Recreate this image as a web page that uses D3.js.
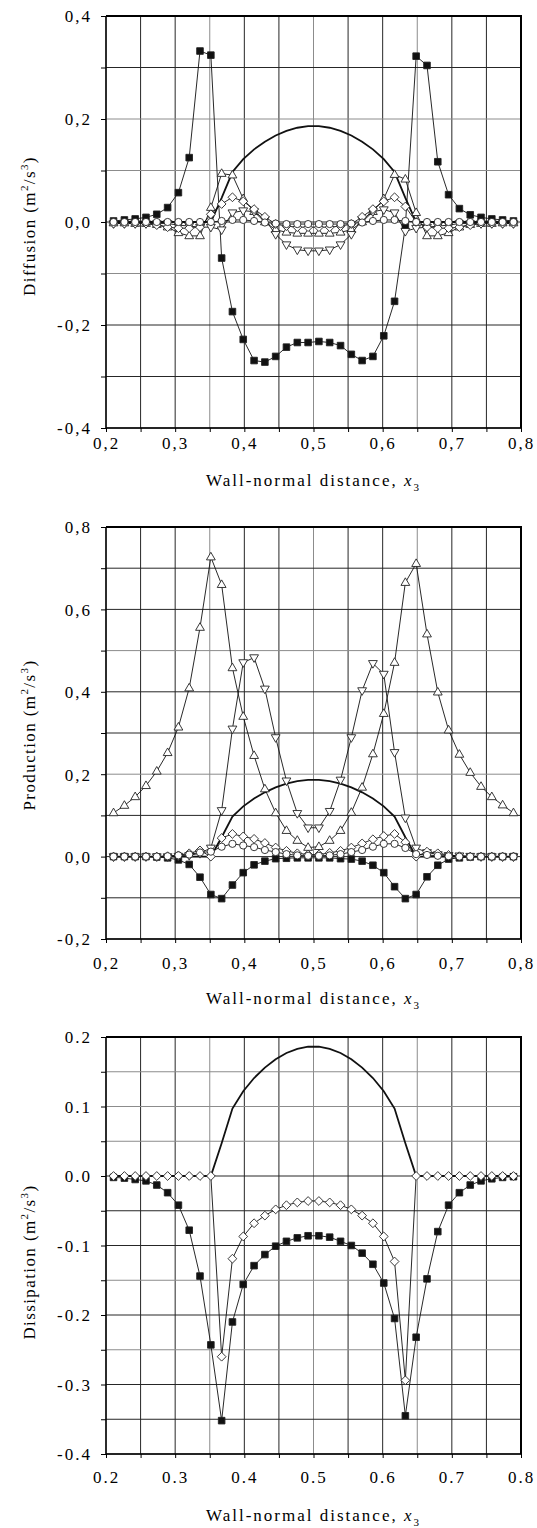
<!DOCTYPE html>
<html>
<head>
<meta charset="utf-8">
<script src="https://cdn.jsdelivr.net/npm/d3@7.9.0/dist/d3.min.js"></script>
<style>
  body { margin: 0; background: #fff; }
  svg { display: block; font-family: "Liberation Serif", "Times New Roman", serif; }
</style>
</head>
<body>
<svg id="chart" width="537" height="1528"></svg>
<script>
// wall-normal positions of the sample points
const xPos = [0.2109, 0.2266, 0.2422, 0.2578, 0.2734, 0.2891, 0.3047, 0.3203, 0.3359, 0.3516,
  0.3672, 0.3828, 0.3984, 0.4141, 0.4297, 0.4453, 0.4609, 0.4766, 0.4922, 0.5078,
  0.5234, 0.5391, 0.5547, 0.5703, 0.5859, 0.6016, 0.6172, 0.6328, 0.6484, 0.6641,
  0.6797, 0.6953, 0.7109, 0.7266, 0.7422, 0.7578, 0.7734, 0.7891];
const xTicks = [0.2, 0.3, 0.4, 0.5, 0.6, 0.7, 0.8];
const xGrid = [0.2, 0.25, 0.3, 0.35, 0.4, 0.45, 0.5, 0.55, 0.6, 0.65, 0.7, 0.75, 0.8];

// reference profile (solid line), same in all panels
const profile = [0, 0, 0, 0, 0, 0, 0, 0, 0, 0,
  0.047, 0.097, 0.122, 0.141, 0.156, 0.168, 0.177, 0.183, 0.186, 0.186,
  0.183, 0.177, 0.168, 0.156, 0.141, 0.122, 0.097, 0.047, 0, 0,
  0, 0, 0, 0, 0, 0, 0, 0];

// Diffusion
const diffSquare = [0.002, 0.004, 0.006, 0.009, 0.015, 0.028, 0.057, 0.125, 0.332, 0.324,
  -0.070, -0.174, -0.228, -0.269, -0.272, -0.261, -0.243, -0.234, -0.234, -0.232,
  -0.234, -0.240, -0.257, -0.269, -0.261, -0.221, -0.154, -0.008, 0.322, 0.304,
  0.117, 0.053, 0.026, 0.014, 0.009, 0.006, 0.004, 0.002];
const diffUp = [-0.002, -0.002, -0.003, -0.003, -0.005, -0.010, -0.021, -0.027, -0.027, 0.028,
  0.094, 0.091, 0.045, 0.020, 0.000, -0.015, -0.020, -0.022, -0.022, -0.022,
  -0.022, -0.020, -0.015, 0.000, 0.020, 0.045, 0.092, 0.083, 0.018, -0.027,
  -0.027, -0.021, -0.010, -0.005, -0.003, -0.003, -0.002, -0.002];
const diffDown = [-0.003, -0.003, -0.003, -0.003, -0.003, -0.003, -0.006, -0.008, -0.010, -0.010,
  -0.015, 0.018, 0.022, 0.020, 0.005, -0.024, -0.044, -0.054, -0.056, -0.056,
  -0.054, -0.044, -0.024, 0.005, 0.020, 0.024, 0.018, -0.018, -0.012, -0.010,
  -0.008, -0.006, -0.003, -0.003, -0.003, -0.003, -0.003, -0.003];
const diffDiamond = [-0.003, -0.003, -0.003, -0.003, -0.006, -0.010, -0.012, -0.012, -0.010, 0.015,
  0.035, 0.048, 0.040, 0.025, 0.010, -0.004, -0.008, -0.010, -0.010, -0.010,
  -0.010, -0.008, -0.004, 0.010, 0.025, 0.040, 0.048, 0.030, 0.000, -0.010,
  -0.012, -0.012, -0.010, -0.006, -0.003, -0.003, -0.003, -0.003];
const diffCircle = [0, 0, 0, 0, 0, 0, 0, 0, 0, 0,
  0.002, 0.004, 0.004, 0.002, -0.001, -0.003, -0.004, -0.004, -0.004, -0.004,
  -0.004, -0.004, -0.003, -0.001, 0.002, 0.004, 0.004, 0.002, 0, 0,
  0, 0, 0, 0, 0, 0, 0, 0];

// Production
const prodSquare = [0, 0, 0, 0, -0.001, -0.003, -0.008, -0.019, -0.050, -0.092,
  -0.102, -0.069, -0.039, -0.020, -0.011, -0.005, -0.004, -0.003, -0.003, -0.003,
  -0.003, -0.005, -0.006, -0.011, -0.021, -0.039, -0.073, -0.102, -0.092, -0.049,
  -0.021, -0.006, -0.003, -0.001, 0, 0, 0, 0];
const prodUp = [0.106, 0.124, 0.145, 0.172, 0.207, 0.252, 0.314, 0.409, 0.556, 0.727,
  0.660, 0.458, 0.340, 0.245, 0.164, 0.106, 0.063, 0.039, 0.022, 0.024,
  0.039, 0.063, 0.107, 0.168, 0.249, 0.347, 0.471, 0.665, 0.711, 0.540,
  0.399, 0.307, 0.248, 0.204, 0.170, 0.145, 0.125, 0.106];
const prodDown = [0, 0, 0, 0, 0, 0, 0.001, 0.003, 0.008, 0.021,
  0.112, 0.310, 0.471, 0.483, 0.407, 0.289, 0.184, 0.105, 0.070, 0.070,
  0.110, 0.186, 0.289, 0.403, 0.469, 0.443, 0.253, 0.094, 0.021, 0.010,
  0.005, 0.003, 0.002, 0.001, 0, 0, 0, 0];
const prodDiamond = [0, 0, 0, 0, 0, 0.001, 0.003, 0.008, 0.015, 0.000,
  0.045, 0.055, 0.049, 0.043, 0.033, 0.022, 0.014, 0.008, 0.005, 0.005,
  0.009, 0.014, 0.022, 0.032, 0.042, 0.050, 0.055, 0.035, 0.000, 0.012,
  0.008, 0.004, 0.001, 0, 0, 0, 0, 0];
const prodCircle = [0, 0, 0, 0, 0, 0.001, 0.003, 0.005, 0.010, 0.012,
  0.024, 0.031, 0.027, 0.023, 0.016, 0.011, 0.006, 0.003, 0.002, 0.002,
  0.003, 0.006, 0.011, 0.016, 0.024, 0.031, 0.031, 0.021, 0.006, 0.004,
  0.002, 0.001, 0, 0, 0, 0, 0, 0];

// Dissipation
const dissSquare = [-0.002, -0.003, -0.005, -0.007, -0.013, -0.024, -0.042, -0.078, -0.144, -0.243,
  -0.352, -0.210, -0.156, -0.129, -0.113, -0.101, -0.094, -0.089, -0.086, -0.086,
  -0.088, -0.094, -0.100, -0.111, -0.127, -0.154, -0.205, -0.345, -0.232, -0.148,
  -0.080, -0.042, -0.024, -0.013, -0.007, -0.004, -0.002, -0.001];
const dissDiamond = [0, 0, 0, 0, 0, 0, 0, 0, 0, 0,
  -0.260, -0.119, -0.087, -0.068, -0.057, -0.048, -0.042, -0.038, -0.036, -0.036,
  -0.038, -0.042, -0.048, -0.057, -0.068, -0.087, -0.123, -0.294, 0, 0,
  0, 0, 0, 0, 0, 0, 0, 0];

const diffTicks = [-0.4, -0.2, 0, 0.2, 0.4];
const diffGrid = [-0.4, -0.3, -0.2, -0.1, 0, 0.1, 0.2, 0.3, 0.4];
const prodTicks = [-0.2, 0, 0.2, 0.4, 0.6, 0.8];
const prodGrid = [-0.2, -0.1, 0, 0.1, 0.2, 0.3, 0.4, 0.5, 0.6, 0.7, 0.8];
const dissTicks = [-0.4, -0.3, -0.2, -0.1, 0, 0.1, 0.2];
const dissGrid = [-0.4, -0.35, -0.3, -0.25, -0.2, -0.15, -0.1, -0.05, 0, 0.05, 0.1, 0.15, 0.2];

const svg = d3.select("#chart");
const left = 106, right = 521;
const x = d3.scaleLinear().domain([0.2, 0.8]).range([left, right]);

const shapes = {
  square: "M-3.3,-3.3h6.6v6.6h-6.6z",
  up: "M0,-4.8L4.4,2.8L-4.4,2.8Z",
  down: "M0,4.8L4.4,-2.8L-4.4,-2.8Z",
  diamond: "M0,-4.4L4.4,0L0,4.4L-4.4,0Z"
};

const panels = [
  { top: 16, bottom: 428, domain: [-0.4, 0.4], ticks: diffTicks, grid: diffGrid, sep: ",",
    label: "Diffusion", labelY: 226, tickY: 449, titleY: 486,
    lightY: [0.1, -0.1, 0.2],
    series: [[diffSquare, "square"], [diffUp, "up"], [diffDown, "down"], [diffDiamond, "diamond"], [diffCircle, "circle"]] },
  { top: 527, bottom: 939, domain: [-0.2, 0.8], ticks: prodTicks, grid: prodGrid, sep: ",",
    label: "Production", labelY: 735, tickY: 969, titleY: 1004,
    lightY: [0.5, 0.2],
    series: [[prodSquare, "square"], [prodUp, "up"], [prodDown, "down"], [prodDiamond, "diamond"], [prodCircle, "circle"]] },
  { top: 1037, bottom: 1454, domain: [-0.4, 0.2], ticks: dissTicks, grid: dissGrid, sep: ".",
    label: "Dissipation", labelY: 1262, tickY: 1483, titleY: 1521,
    lightY: [0.15, 0.1, 0.05, -0.15, -0.25],
    series: [[dissSquare, "square"], [dissDiamond, "diamond"]] }
];

const near = (a, b) => Math.abs(a - b) < 1e-9;
const fmt = (v, sep) => d3.format(".1f")(v).replace("\u2212", "-").replace(".", sep);
const lightX = [0.35, 0.5, 0.65];

panels.forEach(p => {
  const y = d3.scaleLinear().domain(p.domain).range([p.bottom, p.top]);
  const g = svg.append("g");

  // grid
  g.append("g").selectAll("line").data(xGrid).join("line")
    .attr("x1", d => x(d)).attr("x2", d => x(d))
    .attr("y1", p.top).attr("y2", p.bottom)
    .attr("stroke", d => lightX.some(v => near(v, d)) ? "#8c8c8c" : "#262626")
    .attr("stroke-width", 1);
  g.append("g").selectAll("line").data(p.grid).join("line")
    .attr("x1", left).attr("x2", right)
    .attr("y1", d => y(d)).attr("y2", d => y(d))
    .attr("stroke", d => p.lightY.some(v => near(v, d)) ? "#8c8c8c" : "#262626")
    .attr("stroke-width", 1);

  // axes
  const xAxis = d3.axisBottom(x).tickValues(xGrid).tickSize(4).tickPadding(6)
    .tickFormat(v => xTicks.some(t => near(t, v)) ? fmt(v, p.sep) : "");
  g.append("g").attr("transform", `translate(0,${p.bottom})`).call(xAxis)
    .call(a => a.select(".domain").remove())
    .call(a => a.selectAll("text").attr("y", null).attr("dy", null)
      .attr("transform", `translate(0,${p.tickY - p.bottom})`))
    .attr("font-family", null).attr("font-size", 17)
    .style("letter-spacing", "2px");

  const yAxis = d3.axisLeft(y).tickValues(p.grid).tickSize(5).tickPadding(9)
    .tickFormat(v => p.ticks.some(t => near(t, v)) ? fmt(v, p.sep) : "");
  g.append("g").attr("transform", `translate(${left},0)`).call(yAxis)
    .call(a => a.select(".domain").remove())
    .call(a => a.selectAll("text").attr("dy", "0.35em"))
    .attr("font-family", null).attr("font-size", 17)
    .style("letter-spacing", "2px");

  // frame
  g.append("line").attr("x1", left).attr("x2", left).attr("y1", p.top).attr("y2", p.bottom)
    .attr("stroke", "#000").attr("stroke-width", 1.4);
  g.append("line").attr("x1", left).attr("x2", right).attr("y1", p.bottom).attr("y2", p.bottom)
    .attr("stroke", "#000").attr("stroke-width", 1.4);
  g.append("line").attr("x1", left).attr("x2", right + 1).attr("y1", p.top).attr("y2", p.top)
    .attr("stroke", "#000").attr("stroke-width", 2);
  g.append("line").attr("x1", right).attr("x2", right).attr("y1", p.top).attr("y2", p.bottom)
    .attr("stroke", "#000").attr("stroke-width", 2);

  // profile line
  const line = d3.line().x((d, i) => x(xPos[i])).y(d => y(d));
  g.append("path").datum(profile).attr("d", line)
    .attr("fill", "none").attr("stroke", "#111").attr("stroke-width", 1.8);

  // series
  p.series.forEach(([vals, shape]) => {
    g.append("path").datum(vals).attr("d", line)
      .attr("fill", "none").attr("stroke", "#111").attr("stroke-width", 0.9);
    const pts = g.append("g").selectAll("g").data(vals).join("g")
      .attr("transform", (d, i) => `translate(${x(xPos[i])},${y(d)})`);
    if (shape === "circle") {
      pts.append("circle").attr("r", 3.6)
        .attr("fill", "#fff").attr("stroke", "#222").attr("stroke-width", 0.9);
    } else {
      pts.append("path").attr("d", shapes[shape])
        .attr("fill", shape === "square" ? "#111" : "#fff")
        .attr("stroke", "#222").attr("stroke-width", 0.9);
    }
  });

  // axis titles
  const lab = g.append("text")
    .attr("transform", `translate(35,${p.labelY}) rotate(-90)`)
    .attr("text-anchor", "middle").attr("font-size", 17)
    .style("letter-spacing", "1.4px");
  lab.append("tspan").text(p.label + " (m");
  lab.append("tspan").attr("dy", -7).attr("font-size", 11).text("2");
  lab.append("tspan").attr("dy", 7).text("/s");
  lab.append("tspan").attr("dy", -7).attr("font-size", 11).text("3");
  lab.append("tspan").attr("dy", 7).text(")");

  const tt = g.append("text")
    .attr("x", (left + right) / 2).attr("y", p.titleY)
    .attr("text-anchor", "middle").attr("font-size", 17)
    .style("letter-spacing", "2px");
  tt.append("tspan").text("Wall-normal distance, ");
  tt.append("tspan").attr("font-style", "italic").text("x");
  tt.append("tspan").attr("dy", 5).attr("font-size", 11).text("3");
});
</script>
</body>
</html>
